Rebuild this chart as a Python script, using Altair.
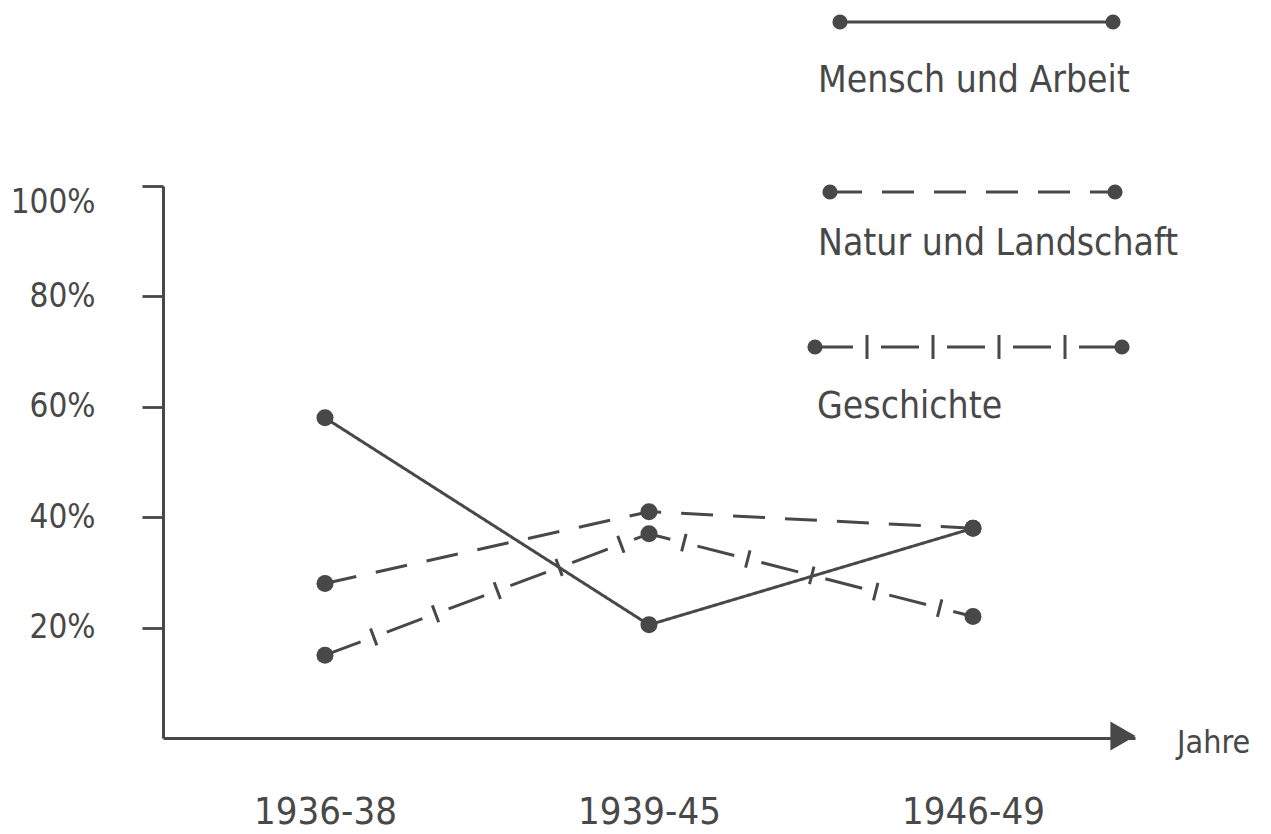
import altair as alt
import pandas as pd

periods = ["1936-38", "1939-45", "1946-49"]
series_names = ["Mensch und Arbeit", "Natur und Landschaft", "Geschichte"]
mensch = [58, 20.5, 38]
natur = [28, 41, 38]
geschichte = [15, 37, 22]
y_ticks = [20, 40, 60, 80, 100]

rows = []
for name, vals in zip(series_names, [mensch, natur, geschichte]):
    for p, v in zip(periods, vals):
        rows.append({"series": name, "period": p, "value": v})
df = pd.DataFrame(rows)

INK = "#484848"
FONT = "DejaVu Sans Condensed"
W, H = 972, 552

xenc = alt.X("period:N", sort=periods,
             scale=alt.Scale(type="point", padding=0.5),
             axis=alt.Axis(title=None, labelAngle=0, ticks=False, domain=True, orient="bottom",
                           domainColor=INK, domainWidth=3, labelFont=FONT,
                           labelFontSize=38, labelColor=INK, labelPadding=55, grid=False))
yenc = alt.Y("value:Q", scale=alt.Scale(domain=[0, 100], nice=False, zero=True),
             axis=alt.Axis(title=None, values=y_ticks, labelExpr="datum.value + '%'",
                           tickSize=21, tickWidth=2.8, tickColor=INK, domainColor=INK,
                           domainWidth=3, labelFont=FONT,
                           labelFontSize=33, labelColor=INK, labelPadding=47,
                           labelBaseline={"condition": {"test": "datum.value == 100",
                                                        "value": "top"},
                                          "value": "middle"},
                           grid=False))

dashes = {"Mensch und Arbeit": [1, 0], "Natur und Landschaft": [32, 20],
          "Geschichte": [38, 28]}
TICK_DASH = [3, 63]
TICK_OFFSET = 15.5

layers = []
for name in series_names:
    sub = df[df.series == name]
    layers.append(alt.Chart(sub).mark_line(color=INK, strokeWidth=3,
                                           strokeDash=dashes[name]).encode(x=xenc, y=yenc))
    if name == "Geschichte":
        layers.append(alt.Chart(sub).mark_line(
            color=INK, strokeWidth=18, strokeDash=TICK_DASH,
            strokeDashOffset=TICK_OFFSET).encode(x=xenc, y=yenc))
    layers.append(alt.Chart(sub).mark_point(filled=True, color=INK, size=290,
                                            opacity=1).encode(x=xenc, y=yenc))

one = pd.DataFrame({"a": [0]})
# arrowhead at end of x axis
arrow = alt.Chart(one).mark_point(
    shape="triangle-right", filled=True, color=INK, size=850, opacity=1).encode(
    x=alt.value(W - 12), y=alt.value(H - 2))
jahre = alt.Chart(pd.DataFrame({"t": ["Jahre"]})).mark_text(
    font=FONT, fontSize=32, color=INK, align="left", baseline="alphabetic").encode(
    x=alt.value(1014), y=alt.value(567), text="t:N")

# legend: (line y, x1, x2), (text baseline y, text x)
leg_lines = [(-164, 677, 950), (6, 667, 952), (161, 652, 959)]
leg_text = [(-94, 655), (69, 655), (232, 654)]
leg_layers = []
for (ly, x1, x2), (ty, tx), name in zip(leg_lines, leg_text, series_names):
    d = pd.DataFrame({"t": [name]})
    leg_layers.append(alt.Chart(d).mark_rule(color=INK, strokeWidth=3,
                                             strokeDash=dashes[name]).encode(
        x=alt.value(x1), x2=alt.value(x2), y=alt.value(ly)))
    if name == "Geschichte":
        leg_layers.append(alt.Chart(d).mark_rule(
            color=INK, strokeWidth=24, strokeDash=TICK_DASH,
            strokeDashOffset=TICK_OFFSET).encode(
            x=alt.value(x1), x2=alt.value(x2), y=alt.value(ly)))
    for xx in (x1, x2):
        leg_layers.append(alt.Chart(one).mark_point(
            filled=True, color=INK, size=230, opacity=1).encode(
            x=alt.value(xx), y=alt.value(ly)))
    leg_layers.append(alt.Chart(d).mark_text(
        font=FONT, fontSize=37, color=INK, align="left",
        baseline="alphabetic").encode(x=alt.value(tx), y=alt.value(ty), text="t:N"))

chart = alt.layer(*layers, arrow, jahre, *leg_layers).properties(
    width=W, height=H,
    background="white",
    autosize=alt.AutoSizeParams(type="none"),
    padding={"left": 155, "top": 178, "right": 120, "bottom": 96},
).configure_view(stroke=None)

chart.save("out.html", embed_options={"renderer": "svg", "actions": False})
